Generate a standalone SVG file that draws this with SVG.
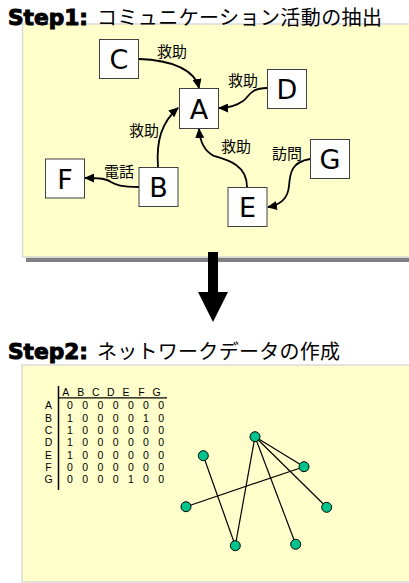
<svg xmlns="http://www.w3.org/2000/svg" width="409" height="583" viewBox="0 0 409 583">
<style>
.panel{fill:#FFFFCC;stroke:#DADADA;stroke-width:1.5}
.box{fill:#FFFFFF;stroke:#404040;stroke-width:1}
.lt{font-family:"DejaVu Sans","Liberation Sans",sans-serif;font-size:27px;fill:#000;text-anchor:middle}
.jp{font-family:"Noto Sans CJK JP",sans-serif;fill:#000}
.lbl{font-family:"Noto Sans CJK JP",sans-serif;font-size:15px;fill:#000}
.step{font-family:"DejaVu Sans","Liberation Sans",sans-serif;font-weight:bold;font-size:21px;fill:#000;stroke:#000;stroke-width:1}
.edge{fill:none;stroke:#000;stroke-width:1.8;marker-end:url(#ah)}
.mx{font-family:"Liberation Sans",Arial,sans-serif;font-size:10.5px;fill:#000;text-anchor:middle}
.gl{stroke:#000;stroke-width:1.2}
.gn{fill:#00C48C;stroke:#000;stroke-width:1}
</style>
<defs>
<marker id="ah" markerUnits="userSpaceOnUse" markerWidth="10" markerHeight="9" refX="9" refY="4.5" orient="auto">
<path d="M0,0 L10,4.5 L0,9 Z" fill="#000"/>
</marker>
</defs>

<!-- Step 1 panel -->
<rect x="26" y="257.5" width="390" height="4.5" fill="#808080"/>
<rect class="panel" x="22.5" y="24" width="392" height="233"/>
<text class="step" x="8" y="25" textLength="80" lengthAdjust="spacingAndGlyphs">Step1:</text>
<text class="jp" x="97" y="25" font-size="20" textLength="285" lengthAdjust="spacing">コミュニケーション活動の抽出</text>

<g id="connectors1">
<path class="edge" d="M139,59 C172,60 195,70 199,88"/>
<path class="edge" d="M267,88 C250,88 249,97 243,101 C236,106 228,108 219,108"/>
<path class="edge" d="M158,167 C156,140 162,122 178,108"/>
<path class="edge" d="M247,187 C247,165 228,160 214,156 C204,151 200,142 199,129"/>
<path class="edge" d="M310,159 C292,162 290,172 289,186 C288,198 280,205 268,207"/>
<path class="edge" d="M139,187 C121,187 116,185 111,182 C105,178 96,178 85,178"/>
</g>
<g id="edge-labels">
<text class="lbl" x="157" y="57">救助</text>
<text class="lbl" x="228" y="86">救助</text>
<text class="lbl" x="129" y="136">救助</text>
<text class="lbl" x="221" y="152">救助</text>
<text class="lbl" x="272" y="159">訪問</text>
<text class="lbl" x="104" y="177">電話</text>
</g>

<g id="node-A"><rect class="box" x="179.5" y="88.5" width="39" height="40"/><text class="lt" x="199" y="118.5">A</text></g>
<g id="node-B"><rect class="box" x="139" y="167.5" width="39" height="39"/><text class="lt" x="158.5" y="197">B</text></g>
<g id="node-C"><rect class="box" x="99.5" y="39.5" width="39" height="39"/><text class="lt" x="119" y="69">C</text></g>
<g id="node-D"><rect class="box" x="267.5" y="69.5" width="39" height="39"/><text class="lt" x="287" y="99">D</text></g>
<g id="node-E"><rect class="box" x="228" y="187.5" width="39" height="39"/><text class="lt" x="247.5" y="217">E</text></g>
<g id="node-F"><rect class="box" x="45.5" y="159" width="39" height="39"/><text class="lt" x="65" y="188.5">F</text></g>
<g id="node-G"><rect class="box" x="310.5" y="139.5" width="39" height="39"/><text class="lt" x="330" y="169">G</text></g>

<!-- Down arrow -->
<polygon points="208,252 218,252 218,292 228,292 213,322 198,292 208,292" fill="#000"/>

<!-- Step 2 panel -->
<rect class="panel" x="22" y="365" width="392" height="217"/>
<text class="step" x="8" y="359" textLength="80" lengthAdjust="spacingAndGlyphs">Step2:</text>
<text class="jp" x="97" y="359" font-size="20" textLength="243" lengthAdjust="spacing">ネットワークデータの作成</text>

<g id="matrix">
<line x1="58.5" y1="386" x2="58.5" y2="490" stroke="#000" stroke-width="1.5"/>
<line x1="59" y1="397.8" x2="167" y2="397.8" stroke="#000" stroke-width="1.2"/>
<g class="mx">
<text x="65.7" y="396">A</text><text x="80.7" y="396">B</text><text x="95.7" y="396">C</text><text x="110.7" y="396">D</text><text x="126" y="396">E</text><text x="141.5" y="396">F</text><text x="156.7" y="396">G</text>
<text x="48.5" y="409.3">A</text><text x="48.5" y="421.6">B</text><text x="48.5" y="433.9">C</text><text x="48.5" y="446.2">D</text><text x="48.5" y="458.5">E</text><text x="48.5" y="470.8">F</text><text x="48.5" y="483.1">G</text>
</g>
<g class="mx">
<text y="409.3"><tspan x="70">0</tspan><tspan x="85.2">0</tspan><tspan x="100.4">0</tspan><tspan x="115.6">0</tspan><tspan x="130.8">0</tspan><tspan x="146">0</tspan><tspan x="161.2">0</tspan></text>
<text y="421.6"><tspan x="70">1</tspan><tspan x="85.2">0</tspan><tspan x="100.4">0</tspan><tspan x="115.6">0</tspan><tspan x="130.8">0</tspan><tspan x="146">1</tspan><tspan x="161.2">0</tspan></text>
<text y="433.9"><tspan x="70">1</tspan><tspan x="85.2">0</tspan><tspan x="100.4">0</tspan><tspan x="115.6">0</tspan><tspan x="130.8">0</tspan><tspan x="146">0</tspan><tspan x="161.2">0</tspan></text>
<text y="446.2"><tspan x="70">1</tspan><tspan x="85.2">0</tspan><tspan x="100.4">0</tspan><tspan x="115.6">0</tspan><tspan x="130.8">0</tspan><tspan x="146">0</tspan><tspan x="161.2">0</tspan></text>
<text y="458.5"><tspan x="70">1</tspan><tspan x="85.2">0</tspan><tspan x="100.4">0</tspan><tspan x="115.6">0</tspan><tspan x="130.8">0</tspan><tspan x="146">0</tspan><tspan x="161.2">0</tspan></text>
<text y="470.8"><tspan x="70">0</tspan><tspan x="85.2">0</tspan><tspan x="100.4">0</tspan><tspan x="115.6">0</tspan><tspan x="130.8">0</tspan><tspan x="146">0</tspan><tspan x="161.2">0</tspan></text>
<text y="483.1"><tspan x="70">0</tspan><tspan x="85.2">0</tspan><tspan x="100.4">0</tspan><tspan x="115.6">0</tspan><tspan x="130.8">1</tspan><tspan x="146">0</tspan><tspan x="161.2">0</tspan></text>
</g>
</g>

<g id="connectors2">
<line class="gl" x1="255" y1="436.7" x2="304" y2="466.7"/>
<line class="gl" x1="255" y1="436.7" x2="326.7" y2="507.3"/>
<line class="gl" x1="255" y1="436.7" x2="235.3" y2="545.7"/>
<line class="gl" x1="255" y1="436.7" x2="295.7" y2="544.3"/>
<line class="gl" x1="203.3" y1="455.7" x2="235.3" y2="545.7"/>
<line class="gl" x1="186" y1="506.7" x2="304" y2="466.7"/>
</g>
<g id="gnode-1"><circle class="gn" cx="255" cy="436.7" r="5"/></g>
<g id="gnode-2"><circle class="gn" cx="203.3" cy="455.7" r="5"/></g>
<g id="gnode-3"><circle class="gn" cx="304" cy="466.7" r="5"/></g>
<g id="gnode-4"><circle class="gn" cx="186" cy="506.7" r="5"/></g>
<g id="gnode-5"><circle class="gn" cx="326.7" cy="507.3" r="5"/></g>
<g id="gnode-6"><circle class="gn" cx="235.3" cy="545.7" r="5"/></g>
<g id="gnode-7"><circle class="gn" cx="295.7" cy="544.3" r="5"/></g>
</svg>
